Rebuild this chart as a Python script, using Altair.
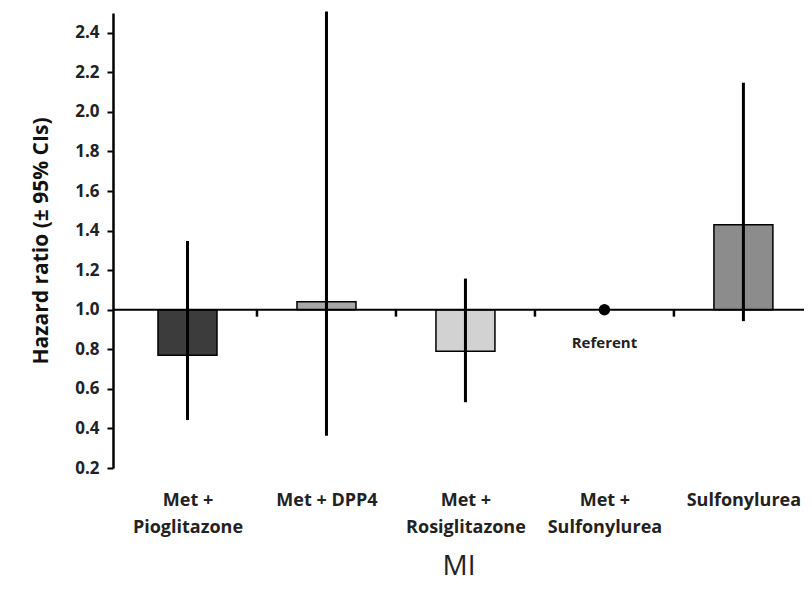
import altair as alt
import pandas as pd

# ---- data ----
categories = ["Met +|Pioglitazone", "Met + DPP4", "Met +|Rosiglitazone", "Met +|Sulfonylurea", "Sulfonylurea"]
hazard = [0.77, 1.04, 0.79, 1.00, 1.43]
ci_low = [0.45, 0.37, 0.54, None, 0.95]
ci_high = [1.34, 2.50, 1.15, None, 2.14]
bar_fill = ["#3c3c3c", "#a8a8a8", "#d2d2d2", None, "#8c8c8c"]
referent_index = 3
referent_label = "Referent"
y_ticks = [0.2, 0.4, 0.6, 0.8, 1.0, 1.2, 1.4, 1.6, 1.8, 2.0, 2.2, 2.4]
y_domain = [0.2, 2.5]
baseline = 1.0
tick_len = 0.035

idx = list(range(len(categories)))
df = pd.DataFrame({"idx": idx, "hr": hazard, "lo": ci_low, "hi": ci_high, "fill": bar_fill})
bars_df = df[df["idx"] != referent_index]
ref_df = df[df["idx"] == referent_index].assign(label=referent_label)
bounds_df = pd.DataFrame({"b": [i + 0.5 for i in idx[:-1]], "y1": baseline, "y2": baseline - tick_len})
base_df = pd.DataFrame({"ref": [baseline]})

FONT = "Open Sans"
label_arr = "[" + ",".join("'" + c + "'" for c in categories) + "]"

x_scale = alt.Scale(domain=[-0.5, 4.4], nice=False, zero=False)
y_scale = alt.Scale(domain=y_domain, nice=False, zero=False)

x_enc = alt.X(
    "idx:Q",
    scale=x_scale,
    axis=alt.Axis(
        values=idx,
        labelExpr="split(" + label_arr + "[datum.value], '|')",
        domain=False,
        ticks=False,
        grid=False,
        labelFont=FONT,
        labelFontWeight="bold",
        labelFontSize=18,
        labelColor="#222222",
        labelPadding=23,
        labelLineHeight=27,
        labelOverlap=False,
        labelFlush=False,
        title="MI",
        titleFont=FONT,
        titleFontWeight="normal",
        titleFontSize=28,
        titleColor="#222222",
        titlePadding=16,
    ),
)
y_enc = alt.Y(
    "hr:Q",
    scale=y_scale,
    axis=alt.Axis(
        values=y_ticks,
        format=".1f",
        grid=False,
        domainColor="black",
        domainWidth=2.5,
        tickColor="black",
        tickWidth=2,
        tickSize=6,
        labelFont=FONT,
        labelFontWeight="bold",
        labelFontSize=17,
        labelColor="#222222",
        labelPadding=8,
        title="Hazard ratio (± 95% CIs)",
        titleFont=FONT,
        titleFontWeight="bold",
        titleFontSize=21,
        titleColor="#111111",
        titlePadding=23,
    ),
)

bars = alt.Chart(bars_df).mark_bar(size=59, stroke="black", strokeWidth=1.5).encode(
    x=x_enc,
    y=y_enc,
    y2=alt.datum(baseline),
    color=alt.Color("fill:N", scale=None),
)

base_line = alt.Chart(base_df).mark_rule(color="black", strokeWidth=2.2).encode(
    y=alt.Y("ref:Q", scale=y_scale)
)

bound_ticks = alt.Chart(bounds_df).mark_rule(color="black", strokeWidth=2.5).encode(
    x=alt.X("b:Q", scale=x_scale),
    y=alt.Y("y1:Q", scale=y_scale),
    y2="y2:Q",
)

whiskers = alt.Chart(bars_df).mark_rule(color="black", strokeWidth=3, strokeCap="square").encode(
    x=alt.X("idx:Q", scale=x_scale),
    y=alt.Y("lo:Q", scale=y_scale),
    y2="hi:Q",
)

ref_point = alt.Chart(ref_df).mark_circle(size=130, color="black", opacity=1).encode(
    x=alt.X("idx:Q", scale=x_scale),
    y=alt.Y("hr:Q", scale=y_scale),
)

ref_text = alt.Chart(ref_df).mark_text(
    dy=33, font=FONT, fontWeight="bold", fontSize=15, color="#222222"
).encode(
    x=alt.X("idx:Q", scale=x_scale),
    y=alt.Y("hr:Q", scale=y_scale),
    text="label:N",
)

chart = alt.layer(bars, base_line, bound_ticks, whiskers, ref_point, ref_text).properties(
    width=691,
    height=455,
    autosize="none",
    padding={"left": 105, "top": 5, "right": 0, "bottom": 118},
    background="white",
).configure_view(stroke=None)

chart.save("out.html", embed_options={"renderer": "svg", "actions": False})
